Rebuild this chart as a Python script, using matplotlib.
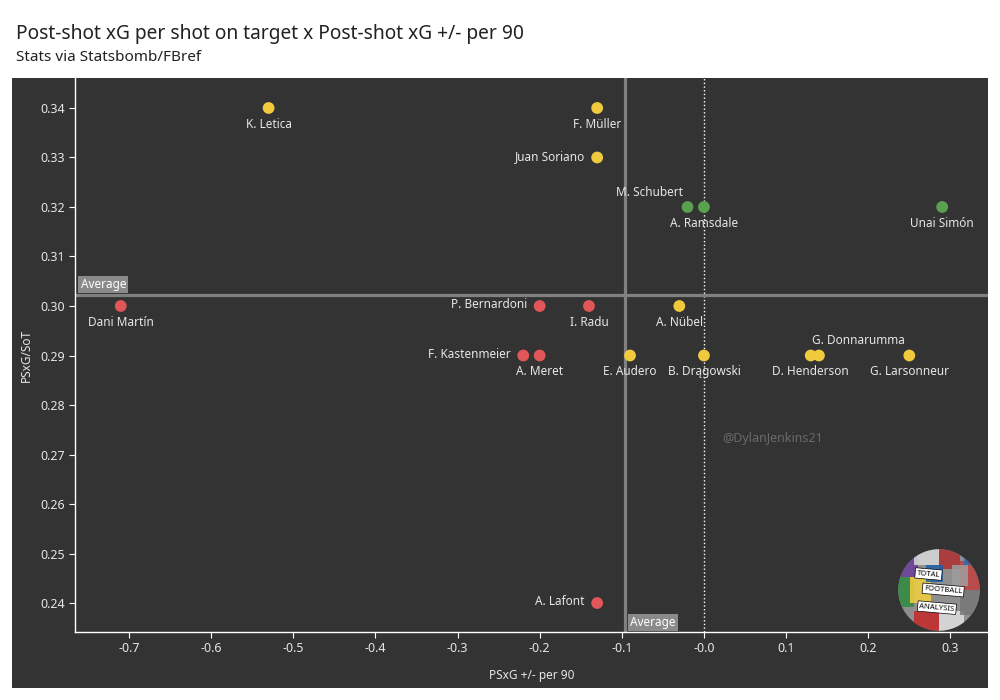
import numpy as np
import matplotlib.pyplot as plt
from matplotlib.patches import Rectangle, Circle

plt.rcParams['font.family'] = ['Noto Sans', 'DejaVu Sans']

# data
players = ['K. Letica', 'F. Müller', 'Juan Soriano', 'M. Schubert', 'A. Ramsdale',
           'Unai Simón', 'Dani Martín', 'P. Bernardoni', 'I. Radu', 'A. Nübel',
           'F. Kastenmeier', 'A. Meret', 'E. Audero', 'B. Drągowski', 'D. Henderson',
           'G. Donnarumma', 'G. Larsonneur', 'A. Lafont']
psxg_pm90 = [-0.53, -0.13, -0.13, -0.02, 0.0, 0.29, -0.71, -0.20, -0.14, -0.03,
             -0.22, -0.20, -0.09, 0.0, 0.13, 0.14, 0.25, -0.13]
psxg_sot = [0.34, 0.34, 0.33, 0.32, 0.32, 0.32, 0.30, 0.30, 0.30, 0.30,
            0.29, 0.29, 0.29, 0.29, 0.29, 0.29, 0.29, 0.24]
group = ['y', 'y', 'y', 'g', 'g', 'g', 'r', 'r', 'r', 'y',
         'r', 'r', 'y', 'y', 'y', 'y', 'y', 'r']
avg_x = -0.0962
avg_y = 0.3022

colors = {'r': '#e15759', 'y': '#f1c93c', 'g': '#59a14f'}
# label placement: (dx, dy in points, ha, va)
place = {'below': (0, -7, 'center', 'top'),
         'left': (-9, 1, 'right', 'center'),
         'above_l': (-3, 6, 'right', 'bottom'),
         'above_r': (-5, 6, 'left', 'bottom')}
label_pos = ['below', 'below', 'left', 'above_l', 'below', 'below', 'below', 'left',
             'below', 'below', 'left', 'below', 'below', 'below', 'below', 'above_r',
             'below', 'left']

bg = '#333333'
txt = '#e6e6e6'

fig = plt.figure(figsize=(10, 7), dpi=100)
fig.patch.set_facecolor('white')
fig.patches.append(Rectangle((0.012, 0.0171), 0.976, 0.8715, transform=fig.transFigure,
                             facecolor=bg, edgecolor='none', zorder=-10))

ax = fig.add_axes([0.075, 0.0971, 0.913, 0.7915])
ax.set_facecolor(bg)
ax.set_xlim(-0.7657, 0.3458)
ax.set_ylim(0.23414, 0.34606)

for s in ['top', 'right']:
    ax.spines[s].set_visible(False)
for s in ['left', 'bottom']:
    ax.spines[s].set_color('white')
    ax.spines[s].set_linewidth(1)

ax.set_xticks(np.arange(-0.7, 0.31, 0.1))
ax.set_xticklabels([f'{v:.1f}' for v in np.arange(-0.7, 0.31, 0.1)])
ax.set_yticks(np.arange(0.24, 0.341, 0.01))
ax.set_yticklabels([f'{v:.2f}' for v in np.arange(0.24, 0.341, 0.01)])
ax.tick_params(colors='white', labelcolor=txt, labelsize=9, length=4, width=0.8)

ax.set_xlabel('PSxG +/- per 90', color=txt, fontsize=8.5)
ax.set_ylabel('PSxG/SoT', color=txt, fontsize=8.5)
ax.xaxis.set_label_coords(0.5, -0.067)
ax.yaxis.set_label_coords(-0.046, 0.5)

# reference lines
ax.axvline(0, color='white', linestyle=':', linewidth=1, zorder=1)
ax.axhline(avg_y, color='#808080', linewidth=2.3, zorder=1)
ax.axvline(avg_x, color='#808080', linewidth=2.3, zorder=1)

box = dict(facecolor='#8a8a8a', edgecolor='none', pad=1.5)
ax.annotate('Average', (-0.7657, avg_y), xytext=(4, 3), textcoords='offset points',
            ha='left', va='bottom', color='white', fontsize=8.5, bbox=box)
ax.annotate('Average', (avg_x, 0.23414), xytext=(4, 2), textcoords='offset points',
            ha='left', va='bottom', color='white', fontsize=8.5, bbox=box)

ax.scatter(psxg_pm90, psxg_sot, s=72, c=[colors[g] for g in group],
           edgecolors='none', zorder=3)
for name, x, y, p in zip(players, psxg_pm90, psxg_sot, label_pos):
    dx, dy, ha, va = place[p]
    ax.annotate(name, (x, y), xytext=(dx, dy), textcoords='offset points',
                ha=ha, va=va, color=txt, fontsize=8.5)

ax.text(0.022, 0.2733, '@DylanJenkins21', color='#6a6a6a', fontsize=9, va='center')

# logo (rough collage badge)
lx, ly = 939, 590
la = fig.add_axes([(lx - 42) / 1000, 1 - (ly + 42) / 700, 84 / 1000, 84 / 700])
la.set_xlim(-1, 1)
la.set_ylim(-1, 1)
la.set_aspect('equal')
la.axis('off')
circ = Circle((0, 0), 0.97, facecolor='#8f8f8f', edgecolor='none')
la.add_patch(circ)
tiles = [(-1.0, 0.3, 0.5, 0.7, '#6a3d9a'), (-1.0, -0.4, 0.4, 0.7, '#2e8b3e'),
         (-0.6, 0.6, 0.6, 0.4, '#d9d9d9'), (0.0, 0.5, 0.5, 0.5, '#b03030'),
         (0.5, 0.0, 0.5, 0.7, '#c04040'), (0.3, 0.1, 0.4, 0.5, '#9e9e9e'),
         (-0.6, -1.0, 0.6, 0.5, '#c62828'), (0.0, -1.0, 0.6, 0.5, '#e0e0e0'),
         (0.5, -0.6, 0.5, 0.6, '#777777'), (-0.7, -0.3, 0.5, 0.6, '#f4d03f'),
         (-0.3, 0.2, 0.4, 0.4, '#1f5fa8'), (0.6, 0.6, 0.4, 0.4, '#2b6cb0')]
for x0, y0, w, h, c in tiles:
    r = Rectangle((x0, y0), w, h, facecolor=c, edgecolor='none', alpha=0.85)
    r.set_clip_path(circ)
    la.add_patch(r)
for t, yy, xx in [('TOTAL', 0.38, -0.25), ('FOOTBALL', 0.0, 0.1), ('ANALYSIS', -0.42, -0.05)]:
    la.text(xx, yy, t, ha='center', va='center', fontsize=5.5, color='black',
            rotation=-5, bbox=dict(facecolor='white', edgecolor='black', linewidth=0.5, pad=1.2))

fig.text(0.016, 0.951, 'Post-shot xG per shot on target x Post-shot xG +/- per 90',
         fontsize=13.8, color='#222222', va='center')
fig.text(0.016, 0.918, 'Stats via Statsbomb/FBref', fontsize=11, color='#222222', va='center')

fig.savefig('out.png', dpi=100)
